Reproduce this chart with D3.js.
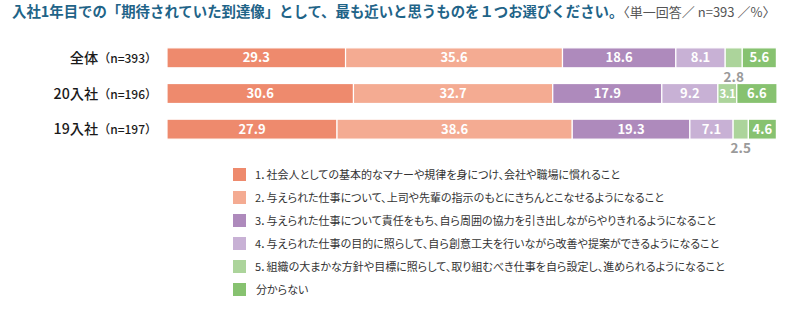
<!DOCTYPE html>
<html>
<head>
<meta charset="utf-8">
<script src="https://cdn.jsdelivr.net/npm/d3@7"></script>
<style>
  html, body { margin: 0; padding: 0; background: #fff; }
  svg { display: block; font-family: "Noto Sans CJK JP", "Noto Sans", sans-serif; }
  .legend-text { font-feature-settings: "palt"; }
</style>
</head>
<body>
<svg id="chart" width="790" height="324"></svg>
<script>
// Groups (rows) and their sample sizes
const groups = ["全体", "20入社", "19入社"];
const groupN = ["n=393", "n=196", "n=197"];

// Answer options (stack order)
const options = [
  "1．社会人としての基本的なマナーや規律を身につけ、会社や職場に慣れること",
  "2．与えられた仕事について、上司や先輩の指示のもとにきちんとこなせるようになること",
  "3．与えられた仕事について責任をもち、自ら周囲の協力を引き出しながらやりきれるようになること",
  "4．与えられた仕事の目的に照らして、自ら創意工夫を行いながら改善や提案ができるようになること",
  "5．組織の大まかな方針や目標に照らして、取り組むべき仕事を自ら設定し、進められるようになること",
  "分からない"
];
const colors = ["#ee8a6d", "#f4ab92", "#ae8abc", "#c8b1d5", "#acd49b", "#87c270"];

// Percentages per group, one array per option
const opt1 = [29.3, 30.6, 27.9];
const opt2 = [35.6, 32.7, 38.6];
const opt3 = [18.6, 17.9, 19.3];
const opt4 = [8.1, 9.2, 7.1];
const opt5 = [2.8, 3.1, 2.5];
const optDK = [5.6, 6.6, 4.6];

const series = [opt1, opt2, opt3, opt4, opt5, optDK];

const svg = d3.select("#chart");

// Title
const title = svg.append("text")
  .attr("x", 12).attr("y", 17)
  .attr("font-size", 14.4).attr("font-weight", 700).attr("fill", "#1f6488");
title.append("tspan").text("入社1年目での「期待されていた到達像」として、最も近いと思うものを１つお選びください。");
title.append("tspan").attr("font-size", 13).attr("font-weight", 400).attr("fill", "#555")
  .text("〈単一回答／ n=393 ／%〉");

// Table of rows built from the arrays
const rows = groups.map((g, i) => {
  const r = { group: g };
  series.forEach((s, k) => r["k" + k] = s[i]);
  return r;
});
const keys = series.map((_, k) => "k" + k);
const stacked = d3.stack().keys(keys)(rows);

const maxSum = d3.max(rows, r => d3.sum(keys, k => r[k]));
const x = d3.scaleLinear().domain([0, Math.max(100, maxSum)]).range([167, 777]);
const y = d3.scaleBand().domain(groups).range([35, 152]).paddingInner(0.44).paddingOuter(0.36);

// Bars
const layer = svg.append("g").selectAll("g").data(stacked).join("g")
  .attr("fill", (d, i) => colors[i]);

layer.selectAll("rect").data(d => d.map(v => ({ v, key: d.key }))).join("rect")
  .attr("x", d => x(d.v[0]))
  .attr("y", d => y(d.v.data.group))
  .attr("width", d => x(d.v[1]) - x(d.v[0]))
  .attr("height", y.bandwidth())
  .attr("stroke", "#fff").attr("stroke-width", 1.2);

// Value labels: inside when wide enough, below the bar in gray when too narrow
const labelG = svg.append("g").attr("font-weight", 700).attr("text-anchor", "middle");
stacked.forEach((layerData, li) => {
  layerData.forEach((v, gi) => {
    const val = series[li][gi];
    const w = x(v[1]) - x(v[0]);
    const cx = (x(v[0]) + x(v[1])) / 2;
    const cy = y(groups[gi]) + y.bandwidth() / 2;
    if (w >= 18) {
      labelG.append("text")
        .attr("x", cx).attr("y", cy + 4.6)
        .attr("font-size", w < 22 ? 11.5 : 13).attr("fill", "#fff")
        .attr("letter-spacing", w < 22 ? -0.6 : 0)
        .text(val.toFixed(1));
    } else {
      labelG.append("text")
        .attr("x", cx).attr("y", y(groups[gi]) + y.bandwidth() + 14)
        .attr("font-size", 13.5).attr("fill", "#9a9a9a")
        .text(val.toFixed(1));
    }
  });
});

// Row labels
const rowLab = svg.append("g").attr("text-anchor", "end");
groups.forEach((g, i) => {
  const t = rowLab.append("text")
    .attr("x", 157).attr("y", y(g) + y.bandwidth() / 2 + 5)
    .attr("fill", "#1a1a1a");
  t.append("tspan").attr("font-size", 14.2).attr("font-weight", 500).text(g);
  t.append("tspan").attr("font-size", 12).attr("font-weight", 500).text("（" + groupN[i] + "）");
});

// Legend
const legend = svg.append("g").selectAll("g").data(options).join("g")
  .attr("transform", (d, i) => `translate(233,${168 + i * 23})`);
legend.append("rect").attr("width", 13).attr("height", 13)
  .attr("fill", (d, i) => colors[i]);
legend.append("text").attr("class", "legend-text")
  .attr("x", (d, i) => i === 5 ? 23 : 22).attr("y", 10.5)
  .attr("font-size", 11).attr("fill", "#333")
  .text(d => d);
</script>
</body>
</html>
